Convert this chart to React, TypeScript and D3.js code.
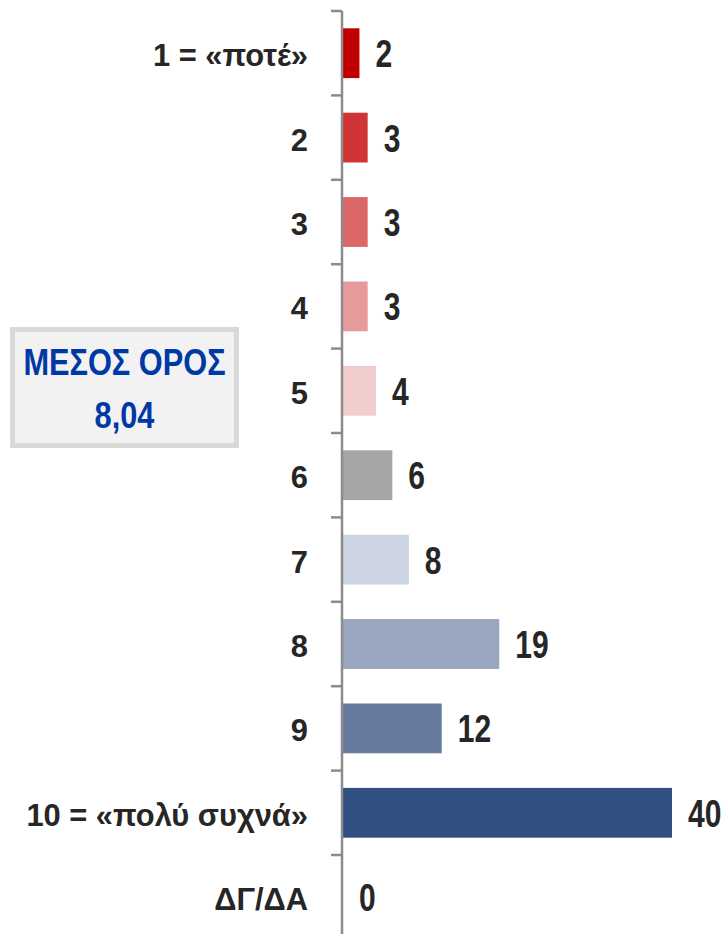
import React from "react";
import * as d3 from "d3";

const categories = [
  "1 = «ποτέ»",
  "2",
  "3",
  "4",
  "5",
  "6",
  "7",
  "8",
  "9",
  "10 = «πολύ συχνά»",
  "ΔΓ/ΔΑ",
];
const values = [2, 3, 3, 3, 4, 6, 8, 19, 12, 40, 0];
const colors = [
  "#C00000",
  "#D03435",
  "#DB6767",
  "#E79A9A",
  "#F2CDCE",
  "#A6A6A6",
  "#CDD4E2",
  "#9AA6C0",
  "#677BA1",
  "#324F81",
  "#324F81",
];
const meanTitle = "ΜΕΣΟΣ ΟΡΟΣ";
const meanValue = "8,04";

const width = 725;
const height = 934;
const axisX = 342;
const top = 11;
const step = 84.4;

// no narrow font installed, so squeeze the bold one horizontally
const narrow = 0.79;

const App: React.FC = () => {
  const y = d3
    .scaleBand<string>()
    .domain(categories)
    .range([top, top + step * categories.length])
    .paddingInner(0.41)
    .paddingOuter(0.205);

  const x = d3.scaleLinear().domain([0, 40]).range([343, 672]);

  const ticks = d3.range(categories.length).map((i) => top + i * y.step());

  const font = "'Liberation Sans', Arial, sans-serif";

  return (
    <svg
      width={width}
      height={height}
      style={{ position: "absolute", left: 0, top: 0, background: "#fff" }}
    >
      {categories.map((c, i) => {
        const yc = y(c)! + y.bandwidth() / 2;
        return (
          <g key={c}>
            <rect
              x={x(0)}
              y={y(c)}
              width={x(values[i]) - x(0)}
              height={y.bandwidth()}
              fill={colors[i]}
            />
            <text
              transform={`translate(308,${yc + 13}) scale(0.98,1)`}
              textAnchor="end"
              fontFamily={font}
              fontWeight="bold"
              fontSize={31.5}
              fill="#262626"
            >
              {c}
            </text>
            <text
              transform={`translate(${x(values[i]) + 16},${yc + 14}) scale(${narrow},1)`}
              fontFamily={font}
              fontWeight="bold"
              fontSize={38}
              fill="#262626"
            >
              {values[i]}
            </text>
          </g>
        );
      })}

      <line
        x1={axisX}
        x2={axisX}
        y1={top}
        y2={height}
        stroke="#8C8C8C"
        strokeWidth={2.5}
      />
      {ticks.map((t) => (
        <line
          key={t}
          x1={331}
          x2={axisX}
          y1={t}
          y2={t}
          stroke="#8C8C8C"
          strokeWidth={2.5}
        />
      ))}

      <rect
        x={12.5}
        y={329.5}
        width={224}
        height={116}
        fill="#F2F2F2"
        stroke="#D9D9D9"
        strokeWidth={5}
      />
      <text
        transform={`translate(124.5,375) scale(0.82,1)`}
        textAnchor="middle"
        fontFamily={font}
        fontWeight="bold"
        fontSize={37.5}
        fill="#0039A6"
      >
        {meanTitle}
      </text>
      <text
        transform={`translate(124.5,428) scale(0.82,1)`}
        textAnchor="middle"
        fontFamily={font}
        fontWeight="bold"
        fontSize={37.5}
        fill="#0039A6"
      >
        {meanValue}
      </text>
    </svg>
  );
};

export default App;
